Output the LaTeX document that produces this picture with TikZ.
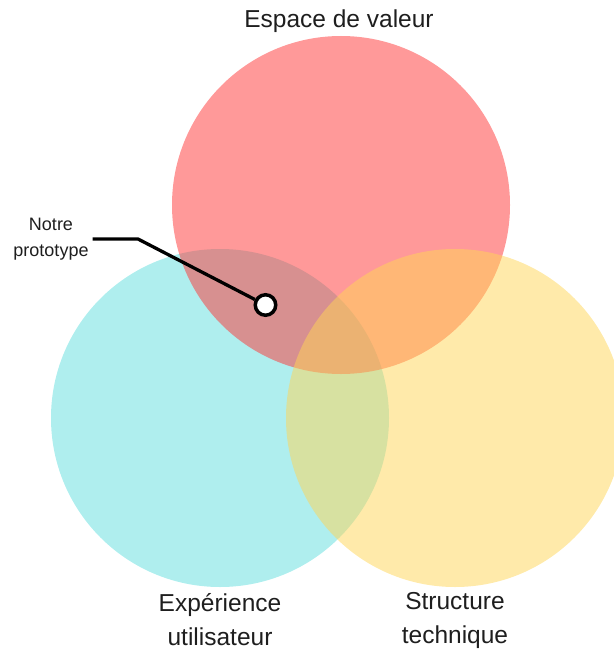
\documentclass[tikz,border=0pt]{standalone}
\usepackage{fontspec}
\setmainfont{Liberation Sans}
\definecolor{cy}{RGB}{175,238,238}
\definecolor{rd}{RGB}{255,51,51}
\definecolor{yl}{RGB}{255,213,85}
\definecolor{txt}{RGB}{30,30,30}
\begin{document}
\begin{tikzpicture}[x=1pt,y=-1pt,
  lbl/.style={font=\fontsize{24.5}{34}\selectfont, align=center, text=txt, inner sep=0pt},
  small/.style={font=\fontsize{18}{26}\selectfont, align=center, text=txt, inner sep=4pt},
  conn/.style={line width=3.3pt, black},
  dotnode/.style={circle, draw=black, line width=3.5pt, fill=white, minimum size=20.5pt, inner sep=0pt}]
\useasboundingbox (0,0) rectangle (613,650);
\fill[cy] (220,418) circle[radius=169];
\fill[rd, fill opacity=0.5] (341,205) circle[radius=169];
\fill[yl, fill opacity=0.5] (455,418) circle[radius=169];
\node[lbl] (ev) at (339,21) {Espace de valeur};
\node[lbl] (ux) at (220,620) {Expérience\\utilisateur};
\node[lbl] (st) at (455,620) {Structure\\technique};
\node[small] (np) at (51,239) {Notre\\prototype};
\node[dotnode] (dot) at (265.5,305) {};
\coordinate (bend) at (138,239);
\draw[conn] (np.east) -- (bend) -- (dot);
\end{tikzpicture}
\end{document}
